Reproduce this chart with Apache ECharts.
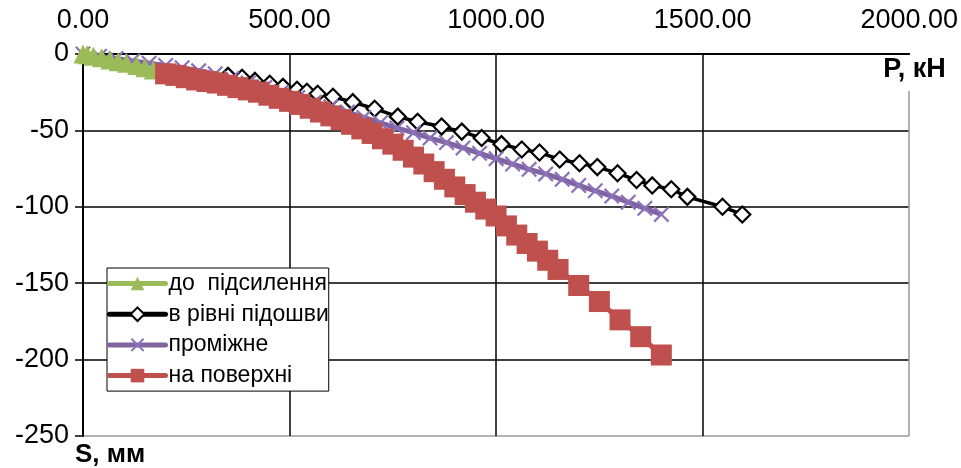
<!DOCTYPE html>
<html>
<head>
<meta charset="utf-8">
<script src="https://cdn.jsdelivr.net/npm/echarts@6/dist/echarts.min.js"></script>
<style>
html,body{margin:0;padding:0;background:#fff;}
#chart{width:961px;height:468px;}
</style>
</head>
<body>
<div id="chart"></div>
<script>
// ---- data ----
var seriesNames = ['до  підсилення', 'в рівні підошви', 'проміжне', 'на поверхні'];
var xTicks = [0, 500, 1000, 1500, 2000];
var yTicks = [-250, -200, -150, -100, -50, 0];

var greenP = [0, 10, 25, 45, 65, 85, 105, 130, 150, 170];
var greenS = [0, -0.5, -1.5, -2.5, -4, -5, -6, -7.5, -9, -10.5];

var blackP = [351, 385, 416, 452, 484, 518, 542, 568, 605, 653, 706, 762, 810, 868, 917, 965, 1013, 1062, 1105, 1154, 1202, 1245, 1294, 1340, 1378, 1424, 1463, 1548, 1596];
var blackS = [-14.3, -15.6, -17.6, -19.5, -21.5, -23.4, -24.7, -26, -28, -31.5, -35.8, -41, -44.3, -47.5, -50.8, -55, -59, -62.5, -64.5, -69, -71.5, -74, -78, -82.5, -86, -88.5, -93.5, -100, -105];

var purpleP = [0, 40, 80, 120, 160, 200, 240, 280, 320, 360, 400, 440, 480, 520, 560, 600, 640, 680, 720, 760, 800, 840, 880, 920, 960, 1000, 1040, 1080, 1120, 1160, 1200, 1240, 1280, 1320, 1360, 1400];
var purpleS = [0, -1.5, -3, -4.5, -6, -7.5, -9, -11, -13, -16, -19, -22, -25, -28.5, -31.5, -34.5, -38, -41.5, -45, -48.5, -51.5, -55, -58, -61.5, -65, -68.5, -72, -75.5, -78.5, -82, -86, -89.5, -93, -97, -101, -105];

var redP = [200, 225, 250, 275, 300, 325, 350, 375, 400, 425, 450, 475, 500, 525, 550, 575, 600, 625, 650, 675, 700, 725, 750, 775, 800, 825, 850, 875, 900, 925, 950, 975, 1000, 1025, 1050, 1075, 1100, 1125, 1150, 1200, 1250, 1300, 1350, 1400];
var redS = [-13, -14, -15.5, -17, -18, -19, -20.5, -22, -23.5, -25, -27, -29, -31, -33, -35.5, -38, -40.5, -43, -46, -49, -52, -55.5, -59, -63, -67.5, -72, -77, -82, -87, -92, -97, -101.5, -106, -112.5, -118.5, -124, -129, -135, -141, -151.5, -162, -174, -185, -197];

function zip(a, b) { return a.map(function (v, i) { return [v, b[i]]; }); }

var crossPath = 'path://M1,0 L5,4 L9,0 L10,1 L6,5 L10,9 L9,10 L5,6 L1,10 L0,9 L4,5 L0,1 Z';

var chart = echarts.init(document.getElementById('chart'), null, {renderer: 'canvas'});
var FONT = 'Liberation Sans, Arial, sans-serif';

chart.setOption({
  animation: false,
  backgroundColor: '#fff',
  textStyle: {fontFamily: FONT},
  grid: {left: 83, right: 51, top: 54, bottom: 30, containLabel: false},
  legend: {
    data: seriesNames,
    orient: 'vertical',
    left: 107, top: 268,
    itemWidth: 56, itemHeight: 17, itemGap: 7.7,
    padding: [4, 0, 4, 0],
    borderColor: '#000', borderWidth: 1,
    backgroundColor: '#fff',
    lineStyle: {width: 5, cap: 'round'},
    textStyle: {fontSize: 23, lineHeight: 23, color: '#000', fontFamily: FONT, padding: [0, 0, 0, -2]}
  },
  xAxis: {
    type: 'value', position: 'top',
    min: 0, max: 2000, interval: 500,
    name: 'P, кН', nameLocation: 'end', nameGap: -28,
    nameTextStyle: {fontSize: 27, fontWeight: 'bold', color: '#000', align: 'left', verticalAlign: 'top',
      backgroundColor: '#fff', padding: [2, 12, 8, 2], fontFamily: FONT},
    axisLine: {show: true, lineStyle: {color: '#000', width: 2}},
    axisTick: {show: false},
    axisLabel: {fontSize: 27, color: '#000', margin: 20, formatter: function (v) { return v.toFixed(2); }},
    splitLine: {show: true, lineStyle: {color: ['#000', '#000', '#000', '#000', '#999'], width: 1.5}}
  },
  yAxis: {
    type: 'value',
    min: -250, max: 0, interval: 50,
    name: 'S, мм', nameLocation: 'start', nameGap: 6,
    nameTextStyle: {fontSize: 26, fontWeight: 'bold', color: '#000', align: 'left', verticalAlign: 'top', padding: [0, 0, 0, -8], fontFamily: FONT},
    axisLine: {show: true, lineStyle: {color: '#000', width: 2}},
    axisTick: {show: true, length: 8, lineStyle: {color: '#000', width: 1.5}},
    axisLabel: {fontSize: 27, color: '#000', margin: 14},
    splitLine: {show: true, lineStyle: {color: ['#999', '#000', '#000', '#000', '#000', '#000'], width: 1.5}}
  },
  series: [
    {
      name: seriesNames[1], type: 'line', data: zip(blackP, blackS),
      symbol: 'diamond', symbolSize: 16, showAllSymbol: true,
      lineStyle: {color: '#000', width: 3.5},
      itemStyle: {color: '#fff', borderColor: '#000', borderWidth: 2.2}
    },
    {
      name: seriesNames[2], type: 'line', data: zip(purpleP, purpleS),
      symbol: crossPath, symbolSize: 16, showAllSymbol: true,
      lineStyle: {color: '#8064A2', width: 5},
      itemStyle: {color: '#8c72b8', borderWidth: 0}
    },
    {
      name: seriesNames[0], type: 'line', data: zip(greenP, greenS),
      symbol: 'triangle', symbolSize: 19, showAllSymbol: true,
      lineStyle: {color: '#9BBB59', width: 5},
      itemStyle: {color: '#9BBB59'}
    },
    {
      name: seriesNames[3], type: 'line', data: zip(redP, redS),
      symbol: 'rect', symbolSize: 21, showAllSymbol: true,
      lineStyle: {color: '#C0504D', width: 5},
      itemStyle: {color: '#C0504D'}
    }
  ]
});
</script>
</body>
</html>
